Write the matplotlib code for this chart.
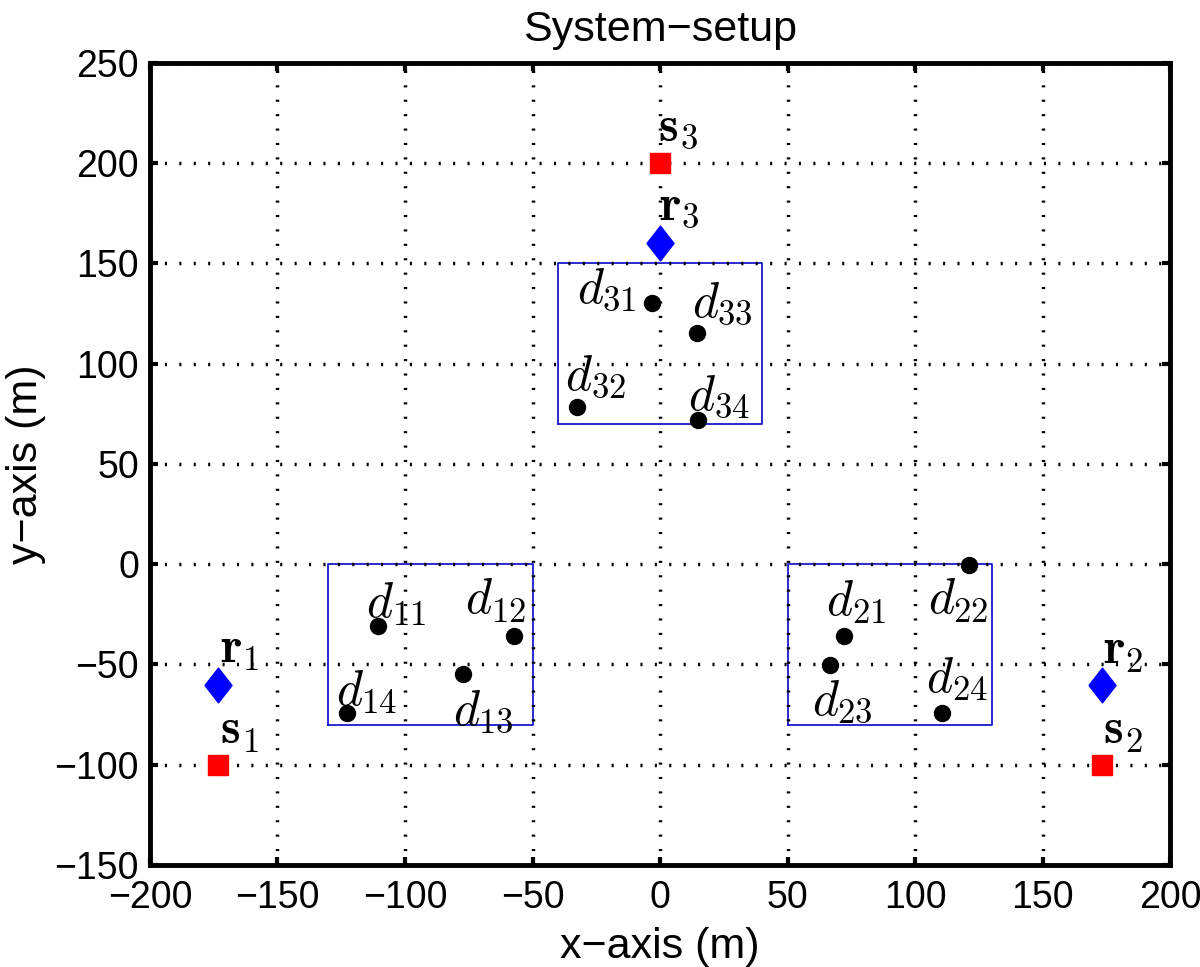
import matplotlib
matplotlib.use("Agg")
import matplotlib.pyplot as plt
import numpy as np

plt.rcParams['font.family'] = ['Liberation Sans', 'DejaVu Sans']
plt.rcParams['mathtext.fontset'] = 'cm'

# sources and relays
src_x = [-173.2, 173.2, 0.0]
src_y = [-100.0, -100.0, 200.0]
relay_x = [-173.2, 173.2, 0.0]
relay_y = [-60.0, -60.0, 160.0]
node_ids = ['1', '2', '3']

# destination clusters (x0, y0, x1, y1)
boxes = [(-130, -80, -50, 0), (50, -80, 130, 0), (-40, 70, 40, 150)]

# destinations
dest_names = ['11', '12', '13', '14', '21', '22', '23', '24', '31', '32', '33', '34']
dest_x = [-110.7, -57.3, -77.1, -122.9, 72.3, 121.3, 66.7, 110.5, -3.3, -32.7, 14.4, 15.0]
dest_y = [-30.8, -35.8, -54.7, -74.3, -35.8, -0.4, -50.2, -74.3, 130.4, 78.3, 115.1, 72.0]

# label anchors (left, baseline)
dest_lbl_x = [-115.3, -76.5, -81.3, -127.2, 65.1, 105.0, 59.5, 104.3, -32.7, -37.3, 12.4, 11.1]
dest_lbl_y = [-26.2, -24.5, -80.2, -70.2, -25.3, -24.5, -75.2, -63.6, 130.4, 86.9, 123.5, 76.9]
src_lbl_x = [-172.5, 173.6, -0.8]
src_lbl_y = [-89.3, -89.3, 211.2]
relay_lbl_x = [-172.5, 173.6, -0.4]
relay_lbl_y = [-48.6, -49.4, 171.7]


def sub_label(ax, x, y, base, sub, adv):
    # TeX-like label: big base symbol plus a wider, larger subscript
    ax.text(x, y, base, fontsize=36, ha='left', va='baseline', zorder=5)
    ax.annotate(r'$\mathrm{%s}$' % sub, xy=(x, y), xytext=(adv, -6),
                textcoords='offset points', fontsize=25,
                ha='left', va='baseline', zorder=5)


fig = plt.figure(figsize=(12, 9.67), dpi=100)
ax = fig.add_axes([0.125, 0.1055, 0.85, 0.8294])
ax.set_axisbelow(False)

for (x0, y0, x1, y1) in boxes:
    ax.plot([x0, x1, x1, x0, x0], [y0, y0, y1, y1, y0], color='#1a1acc', lw=1.3, zorder=2)

diamond = [(-0.78, 0), (0, 1), (0.78, 0), (0, -1), (-0.78, 0)]
ax.plot(src_x, src_y, 's', color='red', markersize=15, zorder=4)
ax.plot(relay_x, relay_y, marker=diamond, ls='none', color='blue', markersize=25, zorder=4)
ax.plot(dest_x, dest_y, 'o', color='black', markersize=11.5, zorder=4)

for lx, ly, n in zip(src_lbl_x, src_lbl_y, node_ids):
    sub_label(ax, lx, ly, r'$\mathbf{s}$', n, 16)
for lx, ly, n in zip(relay_lbl_x, relay_lbl_y, node_ids):
    sub_label(ax, lx, ly, r'$\mathbf{r}$', n, 16)
for lx, ly, n in zip(dest_lbl_x, dest_lbl_y, dest_names):
    sub_label(ax, lx, ly, r'$d$', n, 18.5)

ax.set_xlim(-200, 200)
ax.set_ylim(-150, 250)
ax.set_xticks(np.arange(-200, 201, 50))
ax.set_yticks(np.arange(-150, 251, 50))
ax.set_xticklabels(['\u2212200', '\u2212150', '\u2212100', '\u221250', '0', '50', '100', '150', '200'])
ax.set_yticklabels(['\u2212150', '\u2212100', '\u221250', '0', '50', '100', '150', '200', '250'])
ax.tick_params(direction='in', length=6, width=3, labelsize=27, top=True, right=True)
ax.tick_params(axis='x', pad=11)
ax.tick_params(axis='y', pad=8)
ax.grid(True, color='black', linestyle=(0, (0.6, 3.55)), linewidth=2.5)
for s in ax.spines.values():
    s.set_linewidth(3.5)

ax.set_title('System\u2212setup', fontsize=31, pad=16)
ax.set_xlabel('x\u2212axis (m)', fontsize=31, labelpad=8)
ax.set_ylabel('y\u2212axis (m)', fontsize=31, labelpad=6)

fig.savefig('out.png', dpi=100)
